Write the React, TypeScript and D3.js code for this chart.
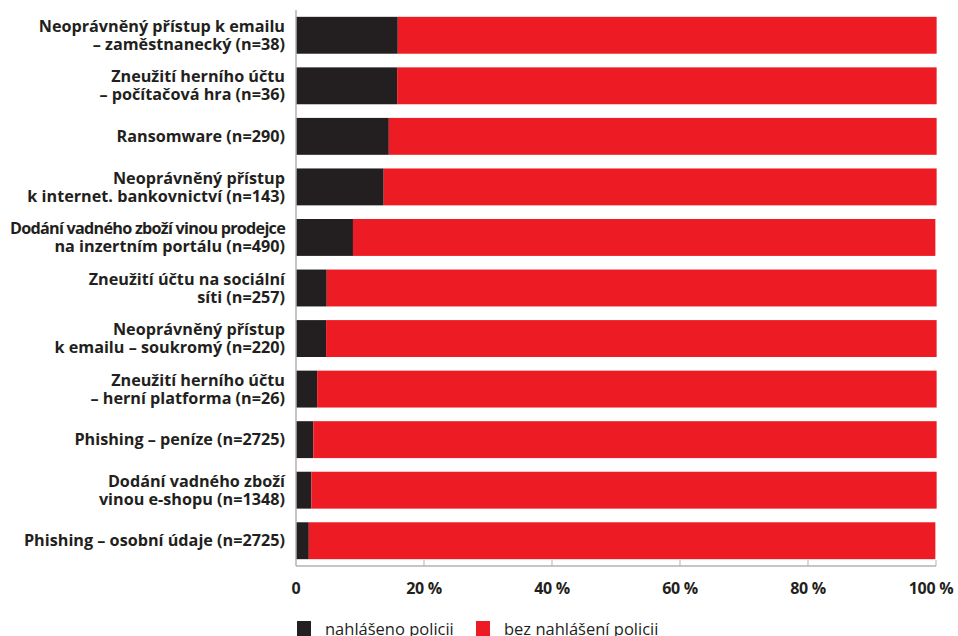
import React from "react";
import * as d3 from "d3";

const categories: string[][] = [
  ["Neoprávněný přístup k emailu", "– zaměstnanecký (n=38)"],
  ["Zneužití herního účtu", "– počítačová hra (n=36)"],
  ["Ransomware (n=290)"],
  ["Neoprávněný přístup", "k internet. bankovnictví (n=143)"],
  ["Dodání vadného zboží vinou prodejce", "na inzertním portálu (n=490)"],
  ["Zneužití účtu na sociální", "síti (n=257)"],
  ["Neoprávněný přístup", "k emailu – soukromý (n=220)"],
  ["Zneužití herního účtu", "– herní platforma (n=26)"],
  ["Phishing – peníze (n=2725)"],
  ["Dodání vadného zboží", "vinou e-shopu (n=1348)"],
  ["Phishing – osobní údaje (n=2725)"],
];
const reported: number[] = [15.9, 15.8, 14.5, 13.7, 8.9, 4.8, 4.7, 3.3, 2.7, 2.4, 2.0];
const notReported: number[] = [84.2, 84.3, 85.6, 86.4, 91.0, 95.3, 95.4, 96.8, 97.4, 97.7, 97.9];
const tickValues: number[] = [0, 20, 40, 60, 80, 100];
const tickLabels: string[] = ["0", "20 %", "40 %", "60 %", "80 %", "100 %"];
const seriesNames: string[] = ["nahlášeno policii", "bez nahlášení policii"];
const colors: string[] = ["#231f20", "#ed1c24"];

export default function App() {
  const W = 958, H = 636;
  const x = d3.scaleLinear().domain([0, 100]).range([296, 936]);
  const idx = categories.map((_, i) => String(i));
  const y = d3.scaleBand().domain(idx).range([10, 566]).paddingInner(0.27).paddingOuter(0.135);
  const bw = y.bandwidth();
  const font = "'Open Sans', sans-serif";
  return (
    <svg width={W} height={H} style={{ position: "absolute", left: 0, top: 0 }} fontFamily={font}>
      {categories.map((lines, i) => {
        const y0 = y(String(i))!;
        const cy = y0 + bw / 2;
        const r = reported[i];
        const n = notReported[i];
        const lh = 18;
        const first = cy - ((lines.length - 1) * lh) / 2;
        const condensed = lines[0].startsWith("Dodání vadného zboží vinou");
        return (
          <g key={i}>
            <rect x={x(0)} y={y0} width={x(r) - x(0)} height={bw} fill={colors[0]} />
            <rect x={x(r)} y={y0} width={x(r + n) - x(r)} height={bw} fill={colors[1]} />
            {lines.map((t, j) => (
              <text
                key={j}
                x={285}
                y={first + j * lh}
                dy="0.35em"
                textAnchor="end"
                fontSize={16.2}
                fontWeight={700}
                fill="#231f20"
                letterSpacing={condensed && j === 0 ? -0.75 : 0}
              >
                {t}
              </text>
            ))}
          </g>
        );
      })}
      <line x1={x(0)} x2={x(0)} y1={10} y2={566} stroke="#b3b3b3" strokeWidth={1.5} />
      <line x1={x(0)} x2={x(100)} y1={566} y2={566} stroke="#b3b3b3" strokeWidth={1.5} />
      {tickValues.map((v, i) => (
        <g key={v}>
          {i > 0 && <line x1={x(v)} x2={x(v)} y1={560} y2={566} stroke="#b3b3b3" strokeWidth={1} />}
          <text
            x={i === tickValues.length - 1 ? x(v) - 5 : x(v)}
            y={588}
            dy="0.35em"
            textAnchor="middle"
            fontSize={16}
            fontWeight={700}
            fill="#231f20"
            letterSpacing={-0.3}
          >
            {tickLabels[i]}
          </text>
        </g>
      ))}
      {seriesNames.map((s, i) => {
        const lx = i === 0 ? 297 : 476;
        return (
          <g key={s}>
            <rect x={lx} y={621} width={14} height={15} fill={colors[i]} />
            <text x={lx + 28} y={630} dy="0.3em" fontSize={16.5} fill="#231f20">
              {s}
            </text>
          </g>
        );
      })}
    </svg>
  );
}
